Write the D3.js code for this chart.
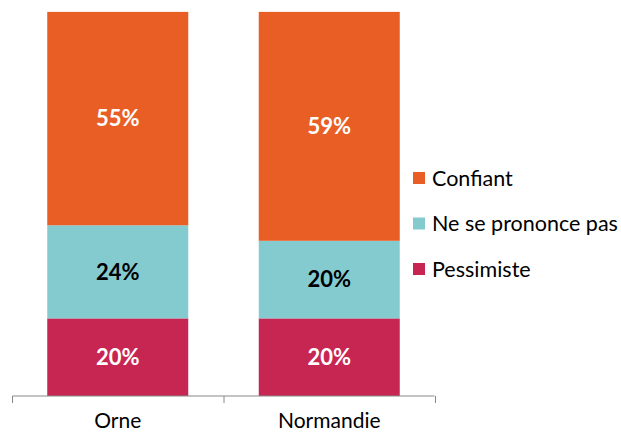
<!DOCTYPE html>
<html>
<head>
<meta charset="utf-8">
<script src="https://cdn.jsdelivr.net/npm/d3@7"></script>
<style>
  body { margin: 0; background: #fff; }
  text { font-family: Lato, "Open Sans", sans-serif; }
</style>
</head>
<body>
<svg id="chart" width="621" height="435"></svg>
<script>
// data
var categories = ["Orne", "Normandie"];
var seriesNames = ["Pessimiste", "Ne se prononce pas", "Confiant"];
var pessimiste = [20, 20];
var neSePrononce = [24, 20];
var confiant = [55, 59];
var colors = ["#C72653", "#84CBD0", "#E95E24"];
var labelColors = ["#fff", "#000", "#fff"];

var rows = categories.map(function (c, i) {
  return { cat: c, "Pessimiste": pessimiste[i], "Ne se prononce pas": neSePrononce[i], "Confiant": confiant[i] };
});

var svg = d3.select("#chart");

var x = d3.scaleBand().domain(categories).range([12, 435]).paddingInner(0).paddingOuter(0);
var y = d3.scaleLinear().domain([0, 100]).range([396, 8]);
var barW = 141;

var stack = d3.stack().keys(seriesNames)(rows);

var layers = svg.selectAll("g.layer")
  .data(stack)
  .enter().append("g")
  .attr("class", "layer")
  .attr("fill", function (d, i) { return colors[i]; });

layers.selectAll("rect")
  .data(function (d) { return d; })
  .enter().append("rect")
  .attr("x", function (d) { return x(d.data.cat) + (x.bandwidth() - barW) / 2; })
  .attr("width", barW)
  .attr("y", function (d) { return y(d[1]); })
  .attr("height", function (d) { return y(d[0]) - y(d[1]); });

// value labels
stack.forEach(function (s, i) {
  svg.selectAll("text.v" + i)
    .data(s)
    .enter().append("text")
    .attr("x", function (d) { return x(d.data.cat) + x.bandwidth() / 2; })
    .attr("y", function (d) { return (y(d[0]) + y(d[1])) / 2; })
    .attr("dy", "0.35em")
    .attr("text-anchor", "middle")
    .attr("font-size", 22)
    .attr("font-weight", "bold")
    .attr("fill", labelColors[i])
    .text(function (d) { return (d[1] - d[0]) + "%"; });
});

// x axis
var axis = d3.axisBottom(x).tickSize(0).tickPadding(17);
var gx = svg.append("g").attr("transform", "translate(0,396)").call(axis);
gx.select(".domain").attr("stroke", "#888").attr("d", "M12.5,0V0H434.5V0");
gx.selectAll("text").attr("font-size", 21).attr("fill", "#000")
  .style("font-family", "Lato, 'Open Sans', sans-serif");
// category boundary ticks
var bounds = [12, x("Normandie"), 435];
gx.selectAll("line.bt")
  .data(bounds)
  .enter().append("line")
  .attr("class", "bt")
  .attr("x1", function (d) { return d + 0.5; })
  .attr("x2", function (d) { return d + 0.5; })
  .attr("y1", 0).attr("y2", 7)
  .attr("stroke", "#888");

// legend
var legendOrder = [2, 1, 0];
var lg = svg.append("g");
legendOrder.forEach(function (si, k) {
  var cy = 178 + k * 45.5;
  lg.append("rect").attr("x", 413).attr("y", cy - 6).attr("width", 12).attr("height", 12).attr("fill", colors[si]);
  lg.append("text").attr("x", 432).attr("y", cy).attr("dy", "0.35em")
    .attr("font-size", 21.5).attr("fill", "#000").text(seriesNames[si]);
});
</script>
</body>
</html>
